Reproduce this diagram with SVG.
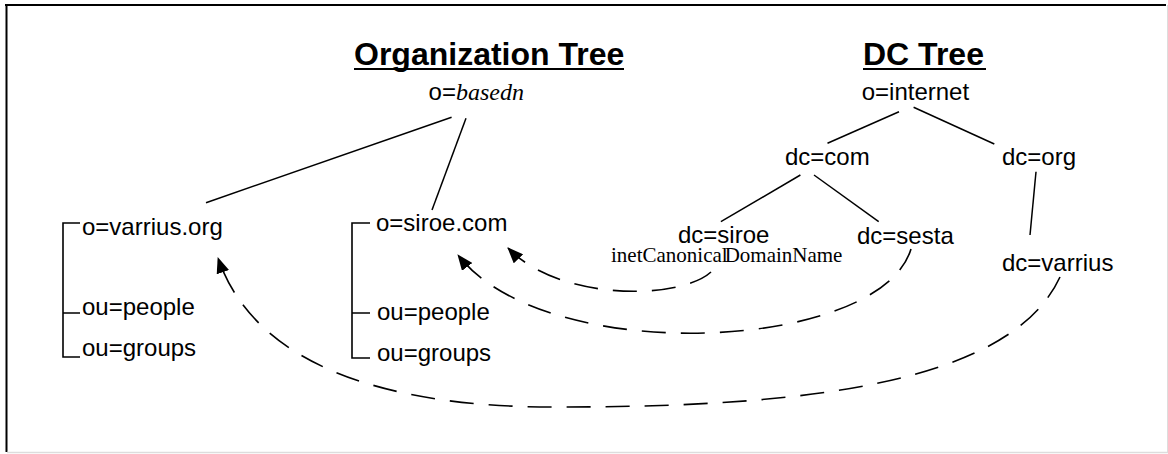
<svg xmlns="http://www.w3.org/2000/svg" width="1168" height="454" viewBox="0 0 1168 454">
  <style>
    .lbl { font-family: "Liberation Sans", Arial, sans-serif; font-size: 24px; fill: #000; }
    .title { font-family: "Liberation Sans", Arial, sans-serif; font-size: 32px; font-weight: bold; fill: #000; }
    .attr { font-family: "Liberation Serif", "Times New Roman", serif; font-size: 21px; fill: #000; }
    .ital { font-family: "Liberation Serif", "Times New Roman", serif; font-style: italic; }
    .edge { stroke: #000; stroke-width: 1.5; fill: none; }
    .brace { stroke: #000; stroke-width: 1.6; fill: none; }
    .link { stroke: #000; stroke-width: 1.6; fill: none; stroke-dasharray: 24 15; marker-end: url(#head); }
    .rule { stroke: #000; stroke-width: 2; }
  </style>
  <defs>
    <marker id="head" markerUnits="userSpaceOnUse" viewBox="0 0 16 13" refX="15" refY="6.5" markerWidth="16" markerHeight="13" orient="auto">
      <path d="M0,0 L16,6.5 L0,13 Z" fill="#000"/>
    </marker>
  </defs>

  <rect width="1168" height="454" fill="#fff"/>
  <!-- frame -->
  <g id="frame">
    <line x1="5" y1="5" x2="1166" y2="5" stroke="#000" stroke-width="2"/>
    <line x1="6.5" y1="4" x2="6.5" y2="452" stroke="#000" stroke-width="2"/>
    <line x1="1167.5" y1="5" x2="1167.5" y2="453" stroke="#ddd" stroke-width="1"/>
    <line x1="7" y1="452.5" x2="1168" y2="452.5" stroke="#ddd" stroke-width="1.5"/>
  </g>

  <!-- headings -->
  <g id="title-org">
    <text class="title" x="354" y="65">Organization Tree</text>
    <line class="rule" x1="354" y1="69" x2="624" y2="69"/>
  </g>
  <g id="title-dc">
    <text class="title" x="863" y="65">DC Tree</text>
    <line class="rule" x1="863" y1="69" x2="986" y2="69"/>
  </g>

  <!-- tree edges and cross links -->
  <g id="connectors">
    <line class="edge" x1="451.6" y1="117.3" x2="206" y2="202.7"/>
    <line class="edge" x1="466" y1="118.3" x2="432" y2="210"/>
    <line class="edge" x1="899" y1="111.7" x2="827.5" y2="143.3"/>
    <line class="edge" x1="913.6" y1="107.3" x2="994.3" y2="144"/>
    <line class="edge" x1="800.4" y1="175" x2="720.9" y2="221.7"/>
    <line class="edge" x1="814" y1="175" x2="878.7" y2="221.7"/>
    <line class="edge" x1="1036" y1="171.7" x2="1030" y2="235"/>

    <!-- left bracket -->
    <path class="brace" d="M80,223 H63 V357 H80 M63,313 H80"/>
    <!-- right bracket -->
    <path class="brace" d="M370,223 H352 V358 H370 M352,313 H370"/>

    <path class="link" d="M711,272 C680,300 560,302 508,248"/>
    <path class="link" d="M911,249 C880,352 545,368 458,255"/>
    <path class="link" d="M1060,277 C1010,385 800,407 560,407 C420,408 260,380 218,258"/>
  </g>

  <!-- organization tree -->
  <g id="node-basedn">
    <text class="lbl" x="428.6" y="100">o=<tspan class="ital">basedn</tspan></text>
  </g>
  <g id="node-varrius-org">
    <text class="lbl" x="82" y="235">o=varrius.org</text>
  </g>
  <g id="node-varrius-people">
    <text class="lbl" x="82" y="315">ou=people</text>
  </g>
  <g id="node-varrius-groups">
    <text class="lbl" x="82" y="356">ou=groups</text>
  </g>
  <g id="node-siroe-com">
    <text class="lbl" x="376" y="231">o=siroe.com</text>
  </g>
  <g id="node-siroe-people">
    <text class="lbl" x="377" y="320">ou=people</text>
  </g>
  <g id="node-siroe-groups">
    <text class="lbl" x="377" y="361">ou=groups</text>
  </g>

  <!-- dc tree -->
  <g id="node-internet">
    <text class="lbl" x="861.7" y="100">o=internet</text>
  </g>
  <g id="node-dc-com">
    <text class="lbl" x="785" y="165">dc=com</text>
  </g>
  <g id="node-dc-org">
    <text class="lbl" x="1002" y="165">dc=org</text>
  </g>
  <g id="node-dc-siroe">
    <text class="lbl" x="678" y="243">dc=siroe</text>
    <text class="attr" x="611" y="262">inetCanonical<tspan dx="-3">DomainName</tspan></text>
  </g>
  <g id="node-dc-sesta">
    <text class="lbl" x="857" y="244">dc=sesta</text>
  </g>
  <g id="node-dc-varrius">
    <text class="lbl" x="1002" y="271">dc=varrius</text>
  </g>
</svg>
